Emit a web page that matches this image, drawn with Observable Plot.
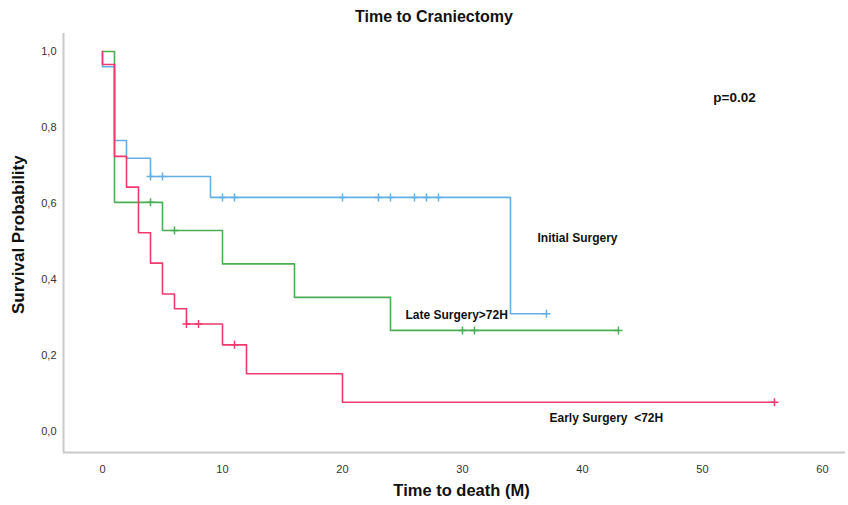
<!DOCTYPE html>
<html>
<head>
<meta charset="utf-8">
<script src="https://cdn.jsdelivr.net/npm/d3@7"></script>
<script src="https://cdn.jsdelivr.net/npm/@observablehq/plot@0.6"></script>
<style>
  html, body { margin: 0; padding: 0; background: #fff; }
  #wrap { position: relative; width: 848px; height: 505px; font-family: "Liberation Sans", Arial, sans-serif; }
  #title { position: absolute; left: 10px; width: 848px; top: 8px; text-align: center; font-weight: bold; font-size: 16px; color: #111; }
  #chart { position: absolute; left: 0; top: 0; }
</style>
</head>
<body>
<div id="wrap">
  <div id="chart"></div>
  <div id="title">Time to Craniectomy</div>
</div>
<script>
// ---- Data (time in months, survival probability) ----
const groups = ["Initial Surgery", "Late Surgery>72H", "Early Surgery  <72H"];

const initialTimes = [0, 0, 1, 2, 4, 9, 34, 37];
const initialSurv  = [1.0, 0.96, 0.766, 0.719, 0.671, 0.616, 0.31, 0.31];
const initialCensorTimes = [4, 5, 10, 11, 20, 23, 24, 26, 27, 28, 37];
const initialCensorSurv  = [0.671, 0.671, 0.616, 0.616, 0.616, 0.616, 0.616, 0.616, 0.616, 0.616, 0.31];

const lateTimes = [0, 1, 5, 10, 16, 24, 43];
const lateSurv  = [1.0, 0.603, 0.529, 0.441, 0.353, 0.266, 0.266];
const lateCensorTimes = [4, 6, 30, 31, 43];
const lateCensorSurv  = [0.603, 0.529, 0.266, 0.266, 0.266];

const earlyTimes = [0, 0, 1, 2, 3, 4, 5, 6, 7, 10, 12, 20, 56];
const earlySurv  = [1.0, 0.966, 0.724, 0.643, 0.523, 0.443, 0.362, 0.323, 0.283, 0.228, 0.152, 0.077, 0.077];
const earlyCensorTimes = [7, 8, 11, 56];
const earlyCensorSurv  = [0.283, 0.283, 0.228, 0.077];

const xTicks = [0, 10, 20, 30, 40, 50, 60];
const yTicks = [0, 0.2, 0.4, 0.6, 0.8, 1.0];

const labelTexts = ["Initial Surgery", "Late Surgery>72H", "Early Surgery\u00a0\u00a0<72H"];
const labelX = [36.25, 25.25, 37.25];
const labelY = [0.508, 0.305, 0.034];
const pText = "p=0.02";
const pX = 50.9, pY = 0.879;

const colors = ["#64b0e6", "#4cae54", "#ee3a6c"];

// ---- Build tables ----
function rows(g, t, s) { return t.map((x, i) => ({group: g, t: x, s: s[i]})); }
const curves = [
  rows(groups[0], initialTimes, initialSurv),
  rows(groups[1], lateTimes, lateSurv),
  rows(groups[2], earlyTimes, earlySurv)
];
const censors = [
  rows(groups[0], initialCensorTimes, initialCensorSurv),
  rows(groups[1], lateCensorTimes, lateCensorSurv),
  rows(groups[2], earlyCensorTimes, earlyCensorSurv)
];
const labels = labelTexts.map((txt, i) => ({txt, x: labelX[i], y: labelY[i]}));

const plusSymbol = {
  draw(context, size) {
    const r = Math.sqrt(size) / 2;
    context.moveTo(0, -r); context.lineTo(0, r);
    context.moveTo(-r, 0); context.lineTo(r, 0);
  }
};

const xMin = -3.25, xMax = 61.92, yMin = -0.0553, yMax = 1.0474;

const marks = [
  Plot.ruleX([xMin], {stroke: "#c9c9c9", strokeWidth: 2}),
  Plot.ruleY([yMin], {stroke: "#c9c9c9", strokeWidth: 2}),
  Plot.axisX(xTicks, {tickSize: 0, tickPadding: 13, fontSize: 11, fill: "#333", label: null}),
  Plot.axisY(yTicks, {tickSize: 0, tickPadding: 7, fontSize: 11, fill: "#333", label: null,
    tickFormat: d => d3.format(".1f")(d).replace(".", ",")})
];
curves.forEach((c, i) => {
  marks.push(Plot.line(c, {x: "t", y: "s", curve: "step-after", stroke: colors[i], strokeWidth: 1.6}));
});
censors.forEach((c, i) => {
  marks.push(Plot.dot(c, {x: "t", y: "s", symbol: plusSymbol, r: 4.5, stroke: colors[i], strokeWidth: 1.5, fill: "none"}));
});
marks.push(Plot.text(labels, {x: "x", y: "y", text: "txt", textAnchor: "start", fontSize: 12, fontWeight: "bold", fill: "#111"}));
marks.push(Plot.text([pText], {x: pX, y: pY, text: d => d, textAnchor: "start", fontSize: 13.5, fontWeight: "bold", fill: "#111"}));
marks.push(Plot.text(["Time to death (M)"], {frameAnchor: "bottom", dx: 7, dy: 43, text: d => d, fontSize: 16.5, fontWeight: "bold", fill: "#111"}));
marks.push(Plot.text(["Survival Probability"], {x: xMin, y: 0.518, dx: -45, rotate: -90, textAnchor: "middle", text: d => d, fontSize: 17, fontWeight: "bold", fill: "#111"}));

const chart = Plot.plot({
  width: 848,
  height: 505,
  marginLeft: 63,
  marginRight: 3,
  marginTop: 33,
  marginBottom: 53,
  style: {fontFamily: "'Liberation Sans', Arial, sans-serif", background: "#fff"},
  x: {domain: [xMin, xMax]},
  y: {domain: [yMin, yMax]},
  marks
});
document.getElementById("chart").appendChild(chart);
</script>
</body>
</html>
